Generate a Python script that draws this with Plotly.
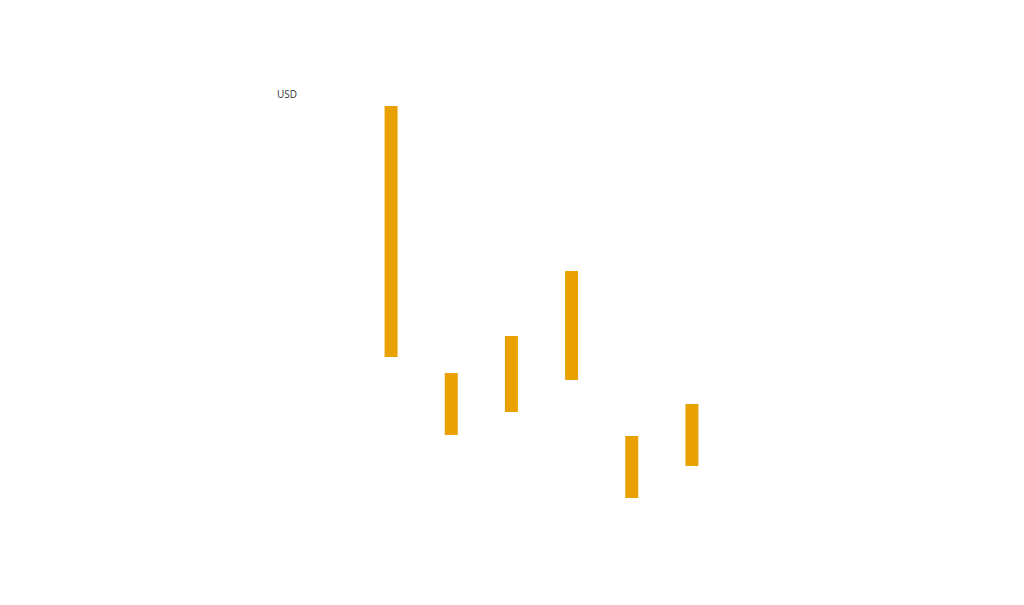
import plotly.graph_objects as go

categories = [0, 1, 2, 3, 4, 5]
bar_low = [141, 63, 86, 118, 0, 32]
bar_high = [392, 125, 162, 227, 62, 94]
heights = [h - l for h, l in zip(bar_high, bar_low)]

fig = go.Figure()
fig.add_trace(go.Bar(
    x=categories,
    y=heights,
    base=bar_low,
    width=0.216,
    marker=dict(color="#E8A100", line=dict(width=0)),
    showlegend=False,
    hoverinfo="skip",
))

fig.update_layout(
    width=1024,
    height=605,
    margin=dict(l=353, r=310, t=90, b=115),
    paper_bgcolor="white",
    plot_bgcolor="white",
    xaxis=dict(range=[-0.5, 5.5], visible=False),
    yaxis=dict(range=[0, 400], visible=False),
    annotations=[dict(
        text="USD",
        xref="paper", yref="paper",
        x=-0.239, y=1.01,
        xanchor="left", yanchor="middle",
        showarrow=False,
        font=dict(family="Open Sans", size=10, color="#333333"),
    )],
)

fig.write_html("out.html")
